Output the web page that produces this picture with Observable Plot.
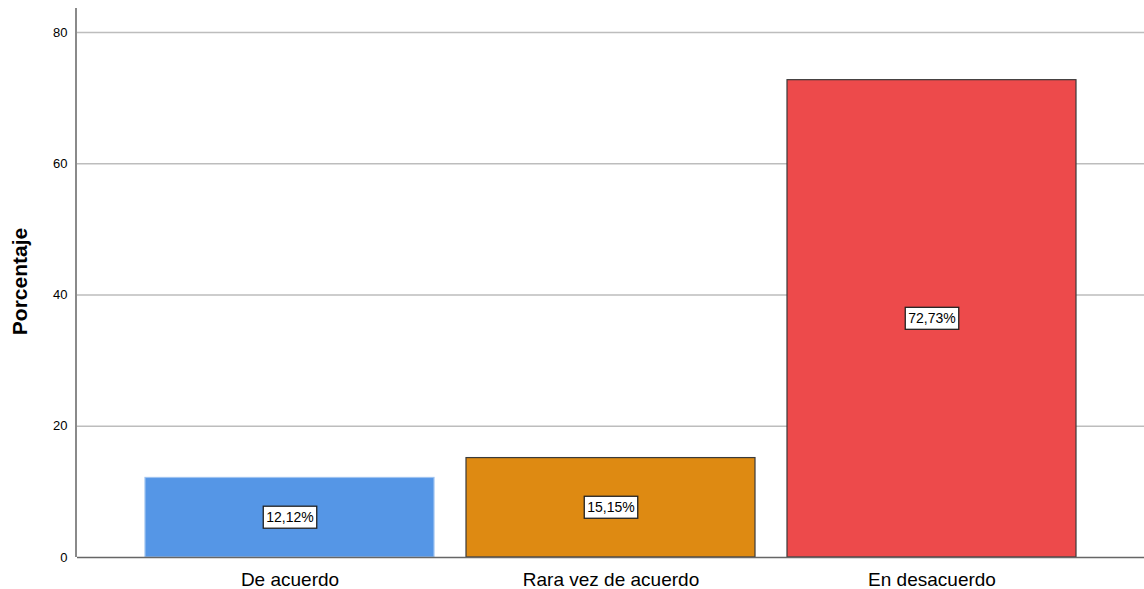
<!DOCTYPE html>
<html><head><meta charset="utf-8">
<script src="https://cdn.jsdelivr.net/npm/d3@7"></script>
<script src="https://cdn.jsdelivr.net/npm/@observablehq/plot@0.6"></script>
<style>body{margin:0;background:#fff;font-family:"Liberation Sans",Arial,sans-serif;}</style>
</head><body><div id="chart"></div>
<script>
const categories = ["De acuerdo", "Rara vez de acuerdo", "En desacuerdo"];
const values = [12.12, 15.15, 72.73];
const colors = ["#5596E6", "#DE8A12", "#ED4A4B"];
const strokes = ["#9EC3F0", "#3a3a3a", "#3a3a3a"];
const yTicks = [0, 20, 40, 60, 80];
const yMax = 83.65;
const data = categories.map((c, i) => ({cat: c, val: values[i], fill: colors[i], stroke: strokes[i], label: values[i].toFixed(2).replace(".", ",") + "%"}));

const chart = Plot.plot({
  width: 1144, height: 589,
  marginLeft: 77, marginRight: 0, marginTop: 8, marginBottom: 32,
  style: {fontFamily: "Liberation Sans, Arial, sans-serif", fontSize: "12px", color: "#000"},
  x: {domain: categories, paddingInner: 0.101, paddingOuter: 0.211, label: null},
  y: {domain: [0, yMax], ticks: yTicks, label: null},
  marks: [
    Plot.gridY(yTicks.filter(d => d > 0), {stroke: "#bdbdbd", strokeOpacity: 1, strokeWidth: 1.5}),
    Plot.barY(data, {x: "cat", y: "val", fill: "fill", stroke: "stroke", strokeWidth: 1.2}),
    Plot.ruleY([0], {stroke: "#666", strokeWidth: 1.5}),
    Plot.axisY({ticks: yTicks, tickSize: 0, tickPadding: 10, fontSize: 13, label: null}),
    Plot.axisX({tickSize: 0, tickPadding: 15, fontSize: 19, label: null}),
    Plot.text(data, {x: "cat", y: d => d.val / 2, text: "label", fontSize: 14, fill: "#000", className: "vlabel"})
  ]
});
document.getElementById("chart").appendChild(chart);

// white boxes behind value labels
chart.querySelectorAll("g.vlabel text").forEach(t => {
  const b = t.getBBox();
  const r = document.createElementNS("http://www.w3.org/2000/svg", "rect");
  r.setAttribute("x", b.x - 3); r.setAttribute("y", b.y - 3);
  r.setAttribute("width", b.width + 6); r.setAttribute("height", b.height + 6);
  r.setAttribute("fill", "#fff"); r.setAttribute("stroke", "#222"); r.setAttribute("stroke-width", "1.3");
  const tr = t.getAttribute("transform");
  if (tr) r.setAttribute("transform", tr);
  t.parentNode.insertBefore(r, t);
});

const svg = d3.select(chart);
const ys = chart.scale("y");
// y axis line
svg.append("line").attr("x1", 76).attr("x2", 76)
  .attr("y1", ys.apply(yMax)).attr("y2", ys.apply(0))
  .attr("stroke", "#8a8a8a").attr("stroke-width", 2);
// y axis title
svg.append("text").attr("transform", "translate(27,281.5) rotate(-90)")
  .attr("text-anchor", "middle").attr("font-size", 21).attr("font-weight", "bold")
  .attr("fill", "#000").text("Porcentaje");
</script></body></html>
